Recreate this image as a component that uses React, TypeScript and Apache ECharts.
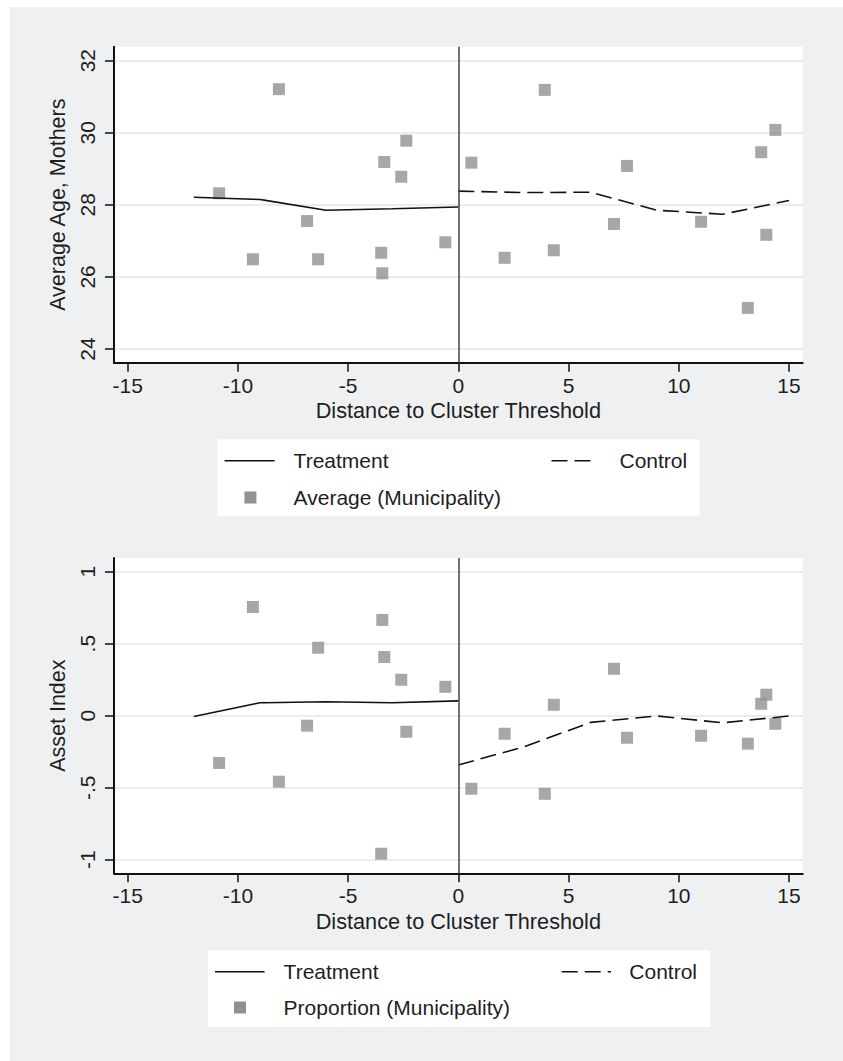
import { useEffect, useRef } from "react";
import * as echarts from "echarts";

// ---- data ----
const xTicks = [-15, -10, -5, 0, 5, 10, 15];
const ageTicks = [24, 26, 28, 30, 32];
const assetTicks = [-1, -0.5, 0, 0.5, 1];

// municipality positions (distance to cluster threshold)
const muniX = [
  -10.85, -8.14, -9.32, -6.86, -6.36, -3.36, -2.36, -2.59, -3.5, -3.45, -0.59,
  0.59, 3.92, 2.1, 4.33, 7.06, 7.65, 11.01, 13.13, 13.74, 13.97, 14.38,
];
const ageAvg = [
  28.32, 31.21, 26.49, 27.55, 26.49, 29.19, 29.78, 28.78, 26.67, 26.1, 26.96,
  29.17, 31.19, 26.53, 26.74, 27.47, 29.08, 27.53, 25.14, 29.46, 27.17, 30.08,
];
const assetProp = [
  -0.328, -0.458, 0.755, -0.069, 0.472, 0.408, -0.111, 0.25, -0.958, 0.665, 0.201,
  -0.507, -0.542, -0.125, 0.076, 0.326, -0.153, -0.139, -0.194, 0.083, 0.146, -0.056,
];

const treatX = [-12, -9, -6, -3, 0];
const controlX = [0, 3, 6, 9, 12, 15];
const ageTreat = [28.21, 28.15, 27.85, 27.89, 27.94];
const ageControl = [28.38, 28.34, 28.35, 27.85, 27.74, 28.12];
const assetTreat = [-0.005, 0.09, 0.097, 0.09, 0.103];
const assetControl = [-0.342, -0.215, -0.046, -0.002, -0.049, -0.002];

const FONT = '"Liberation Sans", Arial, Helvetica, sans-serif';
const TEXT = "#1e1e1e";
const MARK = "#8f9194";

function pairs(xs: number[], ys: number[]) {
  return xs.map((x, i) => [x, ys[i]]);
}

function fmtAsset(v: number) {
  if (v === 0) return "0";
  const s = String(Math.abs(v)).replace(/^0/, "");
  return (v < 0 ? "-" : "") + s;
}

export default function App() {
  const ref = useRef<HTMLDivElement>(null);

  useEffect(() => {
    if (!ref.current) return;
    const chart = echarts.init(ref.current, null, { renderer: "svg" });

    const gridTop = [39.7, 551];
    const gridH = [316, 315.3];

    const xAxisDef = (gi: number) => ({
      type: "value",
      gridIndex: gi,
      min: -15.62,
      max: 15.62,
      axisLine: { show: true, onZero: false, lineStyle: { color: "#111", width: 2 } },
      axisTick: { show: true, length: 9, customValues: xTicks, lineStyle: { color: "#111", width: 1.5 } },
      axisLabel: {
        customValues: xTicks,
        margin: 12,
        fontSize: 21,
        color: TEXT,
        fontFamily: FONT,
      },
      splitLine: { show: false },
      name: "Distance to Cluster Threshold",
      nameLocation: "middle",
      nameGap: 37,
      nameTextStyle: { fontSize: 21.7, color: TEXT, fontFamily: FONT },
    });

    const yAxisDef = (gi: number, min: number, max: number, ticks: number[], name: string, fmt?: (v: number) => string) => ({
      type: "value",
      gridIndex: gi,
      min,
      max,
      axisLine: { show: true, onZero: false, lineStyle: { color: "#111", width: 2 } },
      axisTick: { show: true, length: 9, customValues: ticks, lineStyle: { color: "#111", width: 1.5 } },
      axisLabel: {
        customValues: ticks,
        rotate: 90,
        margin: 16,
        fontSize: 21,
        color: TEXT,
        fontFamily: FONT,
        formatter: fmt ? (v: number) => fmt(v) : undefined,
      },
      splitLine: { show: true, lineStyle: { color: "#e6e6e6", width: 1.5 } },
      name,
      nameLocation: "middle",
      nameGap: 39,
      nameTextStyle: { fontSize: 21.5, color: TEXT, fontFamily: FONT },
    });

    const zeroLine = {
      silent: true,
      symbol: "none",
      label: { show: false },
      lineStyle: { color: "#444", width: 1.5, type: "solid" },
      data: [{ xAxis: 0 }],
    };

    const legend = (
      box: { x: number; y: number; w: number; h: number },
      row1: number,
      row2: number,
      tLine: [number, number],
      tText: number,
      cLine: [number, number],
      cText: number,
      sqX: number,
      label: string
    ) => [
      { type: "rect", shape: { x: box.x, y: box.y, width: box.w, height: box.h }, style: { fill: "#fff" }, silent: true },
      { type: "line", shape: { x1: tLine[0], y1: row1, x2: tLine[1], y2: row1 }, style: { stroke: "#111", lineWidth: 1.6 } },
      { type: "text", x: tText, y: row1, style: { text: "Treatment", fontSize: 21, fontFamily: FONT, fill: TEXT, align: "left", verticalAlign: "middle" } },
      { type: "line", shape: { x1: cLine[0], y1: row1, x2: cLine[1], y2: row1 }, style: { stroke: "#111", lineWidth: 1.6, lineDash: [16, 7] } },
      { type: "text", x: cText, y: row1, style: { text: "Control", fontSize: 21, fontFamily: FONT, fill: TEXT, align: "left", verticalAlign: "middle" } },
      { type: "rect", shape: { x: sqX - 6, y: row2 - 6, width: 12, height: 12 }, style: { fill: MARK } },
      { type: "text", x: tText, y: row2, style: { text: label, fontSize: 21, fontFamily: FONT, fill: TEXT, align: "left", verticalAlign: "middle" } },
    ];

    chart.setOption({
      animation: false,
      backgroundColor: "#eff0f2",
      textStyle: { fontFamily: FONT },
      grid: [0, 1].map((i) => ({
        left: 104,
        top: gridTop[i],
        width: 688.7,
        height: gridH[i],
        show: true,
        backgroundColor: "#ffffff",
        borderWidth: 0,
      })),
      xAxis: [xAxisDef(0), xAxisDef(1)],
      yAxis: [
        yAxisDef(0, 23.62, 32.388, ageTicks, "Average Age, Mothers"),
        yAxisDef(1, -1.094, 1.095, assetTicks, "Asset Index", fmtAsset),
      ],
      series: [
        {
          name: "Average (Municipality)",
          type: "scatter",
          xAxisIndex: 0,
          yAxisIndex: 0,
          symbol: "rect",
          symbolSize: 12,
          itemStyle: { color: MARK },
          data: pairs(muniX, ageAvg),
          markLine: zeroLine,
        },
        {
          name: "Treatment",
          type: "line",
          xAxisIndex: 0,
          yAxisIndex: 0,
          showSymbol: false,
          symbol: "none",
          lineStyle: { color: "#111", width: 1.6 },
          data: pairs(treatX, ageTreat),
        },
        {
          name: "Control",
          type: "line",
          xAxisIndex: 0,
          yAxisIndex: 0,
          showSymbol: false,
          symbol: "none",
          lineStyle: { color: "#111", width: 1.6, type: [16, 7] },
          data: pairs(controlX, ageControl),
        },
        {
          name: "Proportion (Municipality)",
          type: "scatter",
          xAxisIndex: 1,
          yAxisIndex: 1,
          symbol: "rect",
          symbolSize: 12,
          itemStyle: { color: MARK },
          data: pairs(muniX, assetProp),
          markLine: zeroLine,
        },
        {
          name: "Treatment ",
          type: "line",
          xAxisIndex: 1,
          yAxisIndex: 1,
          showSymbol: false,
          symbol: "none",
          lineStyle: { color: "#111", width: 1.6 },
          data: pairs(treatX, assetTreat),
        },
        {
          name: "Control ",
          type: "line",
          xAxisIndex: 1,
          yAxisIndex: 1,
          showSymbol: false,
          symbol: "none",
          lineStyle: { color: "#111", width: 1.6, type: [16, 7] },
          data: pairs(controlX, assetControl),
        },
      ],
      graphic: [
        ...legend({ x: 207.5, y: 432.3, w: 482, h: 76.7 }, 453.7, 490.5, [214.6, 264.6], 283.6, [541.5, 582], 609.5, 240.4, "Average (Municipality)"),
        ...legend({ x: 197.9, y: 943.4, w: 502.5, h: 76.6 }, 964.8, 1000.5, [205, 254.6], 273.6, [551.7, 601], 619.3, 230, "Proportion (Municipality)"),
      ],
    });

    return () => chart.dispose();
  }, []);

  return (
    <div
      ref={ref}
      style={{ position: "fixed", left: 10, top: 7, width: 833, height: 1054 }}
    />
  );
}
